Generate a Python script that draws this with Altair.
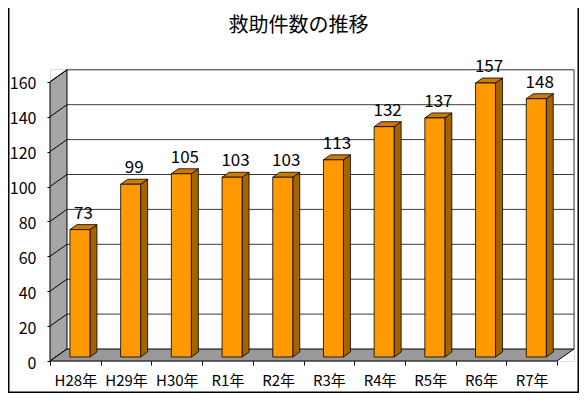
import json
import altair as alt
import pandas as pd

# ---------------- data ----------------
categories = ["H28年", "H29年", "H30年", "R1年", "R2年", "R3年", "R4年", "R5年", "R6年", "R7年"]
values = [73, 99, 105, 103, 103, 113, 132, 137, 157, 148]
y_ticks = [0, 20, 40, 60, 80, 100, 120, 140, 160]
title_text = "救助件数の推移"

# ---------------- geometry / style ----------------
FONT = "Noto Sans CJK JP"
W, H = 524, 292          # plot area (front plane + depth)
PAD = {"left": 42, "top": 61, "right": 5, "bottom": 32}
XPX = 50.7               # px per category on the front plane
YPX = 1.745              # px per unit value
DX, DY = 17, 12          # depth of the 3D frame in px
BAR_W = 20
BAR_SHIFT = (4.6, 4)     # bar front face shift into depth (px)
BAR_DEPTH = (7, 5)       # bar box depth (px)

n = len(categories)
xmax = W / XPX
ymax = H / YPX
ddx, ddy = DX / XPX, DY / YPX
vmax = y_ticks[-1]

xs = alt.Scale(domain=[0, xmax], nice=False, zero=False)
ys = alt.Scale(domain=[0, ymax], nice=False, zero=False)

# ---------------- frame pieces ----------------
wall_df = pd.DataFrame({"x": [0, ddx], "y": [0, ddy], "y2": [vmax, vmax + ddy]})
floor_df = pd.DataFrame({"y": [0, ddy], "x": [0, ddx], "x2": [n, n + ddx]})
grid_df = pd.DataFrame({"x": ddx, "x2": n + ddx, "y": [t + ddy for t in y_ticks[1:]]})
edge_df = pd.DataFrame({"x": [n + ddx], "y": [ddy], "y2": [vmax + ddy]})
diag_df = pd.DataFrame({"x": 0, "x2": ddx, "y": y_ticks, "y2": [t + ddy for t in y_ticks]})
title_df = pd.DataFrame({"t": [title_text]})

# ---------------- bars ----------------
front_rows, side_rows, top_rows, lab_rows = [], [], [], []
bdx, bdy = BAR_DEPTH[0] / XPX, BAR_DEPTH[1] / YPX
for i, (c, v) in enumerate(zip(categories, values)):
    cx = i + 0.5 + BAR_SHIFT[0] / XPX
    xl = cx - BAR_W / 2 / XPX
    xr = cx + BAR_W / 2 / XPX
    yb = BAR_SHIFT[1] / YPX
    yt = yb + v
    front_rows.append({"id": i, "x": xl, "x2": xr, "y": yb, "y2": yt})
    side_rows += [{"id": i, "x": xr, "y": yb, "y2": yt},
                  {"id": i, "x": xr + bdx, "y": yb + bdy, "y2": yt + bdy}]
    top_rows += [{"id": i, "y": yt, "x": xl, "x2": xr},
                 {"id": i, "y": yt + bdy, "x": xl + bdx, "x2": xr + bdx}]
    lab_rows.append({"x": (xl + xr) / 2 + bdx / 2, "y": yt + bdy, "label": str(v)})
front_df = pd.DataFrame(front_rows)
side_df = pd.DataFrame(side_rows)
top_df = pd.DataFrame(top_rows)
lab_df = pd.DataFrame(lab_rows)

cat_js = json.dumps(categories, ensure_ascii=False)

x_axis = alt.Axis(values=list(range(n + 1)),
                  labelExpr=f"datum.value < {n} ? {cat_js}[datum.value] : ''",
                  labelOffset=XPX / 2, labelFont=FONT, labelFontSize=15,
                  labelColor="black", labelPadding=8, labelFlush=False,
                  labelOverlap=False, labelBound=False,
                  domain=False, grid=False, tickSize=4, tickColor="black",
                  title=None)
y_axis = alt.Axis(values=y_ticks, labelFont=FONT, labelFontSize=16,
                  labelColor="black", labelPadding=11, labelOffset=2,
                  domain=False, grid=False, tickSize=3, tickColor="black",
                  title=None)


def X(f):
    return alt.X(f, scale=xs, axis=x_axis)


def Y(f):
    return alt.Y(f, scale=ys, axis=y_axis)


grid = alt.Chart(grid_df).mark_rule(color="#3a3a3a", strokeWidth=1).encode(
    x=X("x:Q"), x2="x2:Q", y=Y("y:Q"),
)
edge = alt.Chart(edge_df).mark_rule(color="#3a3a3a", strokeWidth=1).encode(
    x=X("x:Q"), y=Y("y:Q"), y2="y2:Q",
)
wall = alt.Chart(wall_df).mark_area(fill="#A6A6A6", stroke="black", strokeWidth=1,
                                    interpolate="linear").encode(
    x=X("x:Q"), y=Y("y:Q"), y2="y2:Q",
)
diag = alt.Chart(diag_df).mark_rule(color="black", strokeWidth=1).encode(
    x=X("x:Q"), x2="x2:Q", y=Y("y:Q"), y2="y2:Q",
)
floor = alt.Chart(floor_df).mark_area(fill="#999999", stroke="black", strokeWidth=1,
                                      orient="horizontal", interpolate="linear").encode(
    y=Y("y:Q"), x=X("x:Q"), x2="x2:Q",
)
side = alt.Chart(side_df).mark_area(fill="#A36400", stroke="black", strokeWidth=0.8,
                                    interpolate="linear").encode(
    x=X("x:Q"), y=Y("y:Q"), y2="y2:Q", detail="id:N",
)
top = alt.Chart(top_df).mark_area(fill="#CC7A00", stroke="black", strokeWidth=0.8,
                                  orient="horizontal", interpolate="linear").encode(
    y=Y("y:Q"), x=X("x:Q"), x2="x2:Q", detail="id:N",
)
front = alt.Chart(front_df).mark_rect(fill="#FF9900", stroke="black", strokeWidth=0.8).encode(
    x=X("x:Q"), x2="x2:Q", y=Y("y:Q"), y2="y2:Q",
)
labels = alt.Chart(lab_df).mark_text(font=FONT, fontSize=17, color="black",
                                     baseline="alphabetic", dy=-6).encode(
    x=X("x:Q"), y=Y("y:Q"), text="label:N",
)

# outer chart border (left, right, bottom), drawn at the canvas edges
L, T = PAD["left"], PAD["top"]
R = W + PAD["right"]
B = H + PAD["bottom"]
frame_l = alt.Chart(edge_df).mark_rule(color="black", strokeWidth=1.5).encode(
    x=alt.value(-L + 0.75), y=alt.value(-T), y2=alt.value(B - 0.75))
frame_r = alt.Chart(edge_df).mark_rule(color="black", strokeWidth=1.5).encode(
    x=alt.value(R - 0.75), y=alt.value(-T), y2=alt.value(B - 0.75))
frame_b = alt.Chart(edge_df).mark_rule(color="black", strokeWidth=1.5).encode(
    x=alt.value(-L), x2=alt.value(R), y=alt.value(B - 0.75))

# chart title, centred over the whole chart
title = alt.Chart(title_df).mark_text(font=FONT, fontSize=20, color="black",
                                      align="center", baseline="middle").encode(
    x=alt.value(248.5), y=alt.value(-43), text="t:N")

chart = alt.layer(
    grid, edge, wall, diag, floor, side, top, front, labels,
    frame_l, frame_r, frame_b, title
).properties(
    width=W, height=H,
    padding=PAD,
    autosize=alt.AutoSizeParams(type="none"),
).configure_view(stroke=None).configure(background="white")

chart.save("out.html", embed_options={"renderer": "svg", "actions": False})
